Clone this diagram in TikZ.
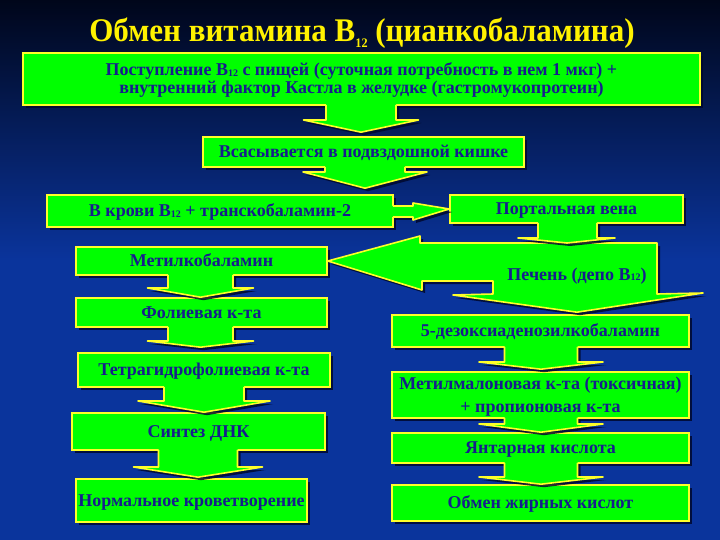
\documentclass[tikz,border=0pt]{standalone}
\usepackage{fontspec}
\setmainfont{Liberation Serif}
\newfontfamily\titlefont[FakeStretch=0.94]{Liberation Serif}
\usetikzlibrary{shadows,calc}
\definecolor{bgtop}{RGB}{0,6,26}
\definecolor{bgmid}{RGB}{6,32,104}
\definecolor{bgbot}{RGB}{10,52,156}
\definecolor{gfill}{RGB}{0,255,0}
\definecolor{ybord}{RGB}{255,255,40}
\definecolor{txtblue}{RGB}{22,30,140}
\definecolor{shadowc}{RGB}{0,8,45}
\newcommand\bsub{B{\fontsize{10}{10}\selectfont\raisebox{-0.15ex}{12}}}
\tikzset{
  sh/.style={drop shadow={shadow xshift=3pt, shadow yshift=-3pt, fill=shadowc, opacity=0.85}},
  box/.style={draw=ybord, line width=1.6pt, fill=gfill, text=txtblue,
    font=\bfseries\fontsize{18}{18}\selectfont, inner sep=0pt, text height=12pt, text depth=1pt, sh},
  txt/.style={text=txtblue, font=\bfseries\fontsize{18}{18}\selectfont, inner sep=0pt, anchor=base},
  arrfill/.style={fill=gfill, sh},
  arrline/.style={draw=ybord, line width=1.6pt, line join=round},
}
% #1 from node, #2 to node, #3 centre x, #4 shaft half width, #5 head half width, #6 head base y, #7 gap at tip
\newcommand\dnarr[7]{%
  \fill[arrfill] ($(#3-#4,0 |- #1.south)+(0,-2)$) -- ($(#3+#4,0 |- #1.south)+(0,-2)$) -- (#3+#4,#6) -- (#3+#5,#6)
     -- ($(#3,0 |- #2.north)+(0,-#7)$) -- (#3-#5,#6) -- (#3-#4,#6) -- cycle;
  \draw[arrline] ($(#3-#4,0 |- #1.south)+(0,-1)$) -- (#3-#4,#6) -- (#3-#5,#6) -- ($(#3,0 |- #2.north)+(0,-#7)$)
     -- (#3+#5,#6) -- (#3+#4,#6) -- ($(#3+#4,0 |- #1.south)+(0,-1)$);
}
\begin{document}
\begin{tikzpicture}[x=1pt,y=-1pt]
\useasboundingbox (0,0) rectangle (720,540);
% background
\fill[bgbot] (0,0) rectangle (720,540);
\shade[top color=bgtop, middle color=bgmid, bottom color=bgbot] (0,0) rectangle (720,260);

% title
\node[anchor=base, text=yellow, font=\titlefont\bfseries\fontsize{33}{34}\selectfont, inner sep=0pt] (title) at (362,42)
  {Обмен витамина B\raisebox{-0.35ex}{\fontsize{13}{13}\selectfont 12} (цианкобаламина)};

% boxes
\node[box, minimum width=677, minimum height=52] (intake) at (361.5,79) {};
\node[txt] (intake1) at (361.5,76) {Поступление \bsub{} с пищей (суточная потребность в нем 1 мкг) +};
\node[txt] (intake2) at (361.5,94) {внутренний фактор Кастла в желудке (гастромукопротеин)};
\node[box, minimum width=321, minimum height=30] (absorb) at (363.5,152) {Всасывается в подвздошной кишке};
\node[box, minimum width=346, minimum height=32] (blood) at (220,211) {В крови \bsub{} + транскобаламин-2};
\node[box, minimum width=233, minimum height=28] (portal) at (566.5,209) {Портальная вена};

\node[box, minimum width=251, minimum height=28] (met) at (201.5,261) {Метилкобаламин};
\node[box, minimum width=251, minimum height=29] (fol) at (201.5,312.5) {Фолиевая к-та};
\node[box, minimum width=252, minimum height=34] (thf) at (204,370) {Тетрагидрофолиевая к-та};
\node[box, minimum width=253, minimum height=37] (dna) at (198.5,431.5) {Синтез ДНК};
\node[box, minimum width=231, minimum height=43] (norm) at (191.5,500.5) {Нормальное кроветворение};

\node[box, minimum width=297, minimum height=32] (dez) at (540.5,331) {5-дезоксиаденозилкобаламин};
\node[box, minimum width=297, minimum height=46] (mmk) at (540.5,395) {};
\node[txt] (mmk1) at (540.5,389) {Метилмалоновая к-та (токсичная)};
\node[txt] (mmk2) at (540.5,412) {+ пропионовая к-та};
\node[box, minimum width=297, minimum height=30] (suc) at (540.5,448) {Янтарная кислота};
\node[box, minimum width=297, minimum height=36] (fat) at (540.5,503) {Обмен жирных кислот};

% liver: combined block (left arrow to Метилкобаламин, down arrow to 5-дезокси...)
\fill[arrfill] (met.east) -- (420,236) -- (420,243) -- (657,243) -- (657,294) -- (703,293)
   -- ($(577,0 |- dez.north)+(0,-2)$) -- (453,295) -- (493,294) -- (493,281) -- (422,281) -- (422,290) -- cycle;
\draw[arrline] (met.east) -- (420,236) -- (420,243) -- (657,243) -- (657,294) -- (703,293)
   -- ($(577,0 |- dez.north)+(0,-2)$) -- (453,295) -- (493,294) -- (493,281) -- (422,281) -- (422,290) -- cycle;
\node[txt] (liver) at (577,280) {Печень (депо \bsub)};
\coordinate (livertop) at (567,243);

% arrows
\dnarr{intake}{absorb}{361}{35}{57.5}{120}{4}
\dnarr{absorb}{blood}{365}{40}{62}{172}{6}
\dnarr{met}{fol}{200.5}{32.5}{53}{288}{0}
\dnarr{fol}{thf}{200.5}{32.5}{53}{341}{5}
\dnarr{thf}{dna}{204}{40}{66}{401}{0}
\dnarr{dna}{norm}{198}{39.5}{64.5}{467}{1}
\dnarr{dez}{mmk}{541}{36.5}{62}{362}{2}
\dnarr{mmk}{suc}{541}{36.5}{62}{424}{0}
\dnarr{suc}{fat}{541}{36.5}{62}{477}{0}
% portal -> liver
\fill[arrfill] ($(538,0 |- portal.south)+(0,-2)$) -- ($(597,0 |- portal.south)+(0,-2)$) -- (597,238) -- (615,238)
   -- (livertop) -- (518,238) -- (538,238) -- cycle;
\draw[arrline] ($(538,0 |- portal.south)+(0,-1)$) -- (538,238) -- (518,238) -- (livertop) -- (615,238) -- (597,238)
   -- ($(597,0 |- portal.south)+(0,-1)$);
% blood -> portal
\fill[arrfill] ($(blood.east)+(-2,-5)$) -- (413,206) -- (413,203) -- (portal.west) -- (413,220) -- (413,217)
   -- ($(blood.east)+(-2,6)$) -- cycle;
\draw[arrline] ($(blood.east)+(-1,-5)$) -- (413,206) -- (413,203) -- (portal.west) -- (413,220) -- (413,217)
   -- ($(blood.east)+(-1,6)$);
\end{tikzpicture}
\end{document}
